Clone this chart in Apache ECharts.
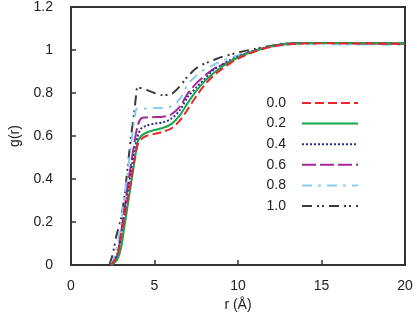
<!DOCTYPE html>
<html><head><meta charset="utf-8">
<script src="https://cdn.jsdelivr.net/npm/echarts@6/dist/echarts.min.js"></script>
<style>html,body{margin:0;padding:0;background:#fff}#c{width:417px;height:317px}</style>
</head><body><div id="c"></div>
<script>
const seriesNames = ['0.0', '0.2', '0.4', '0.6', '0.8', '1.0'];
const xTicks = [0, 5, 10, 15, 20];
const yTicks = [0, 0.2, 0.4, 0.6, 0.8, 1, 1.2];

const r00 = [2.4,2.6,2.8,3.0,3.2,3.4,3.6,3.8,4.0,4.2,4.5,5.0,5.5,6.0,6.5,7.0,7.5,8.0,8.5,9.0,9.5,10,10.5,11,11.5,12,12.5,13,14,15,16,17,18,19,20];
const g00 = [0,0.02,0.05,0.13,0.22,0.31,0.40,0.49,0.56,0.585,0.60,0.61,0.62,0.635,0.67,0.725,0.785,0.838,0.878,0.91,0.937,0.96,0.978,0.993,1.005,1.015,1.022,1.027,1.03,1.031,1.031,1.03,1.03,1.029,1.028];

const r02 = [2.4,2.6,2.8,3.0,3.2,3.4,3.6,3.8,4.0,4.2,4.5,5.0,5.5,6.0,6.5,7.0,7.5,8.0,8.5,9.0,9.5,10,10.5,11,11.5,12,12.5,13,14,15,16,17,18,19,20];
const g02 = [0,0.01,0.03,0.08,0.18,0.28,0.38,0.48,0.575,0.60,0.615,0.628,0.637,0.655,0.695,0.755,0.81,0.855,0.89,0.92,0.945,0.965,0.982,0.996,1.007,1.017,1.024,1.029,1.032,1.033,1.033,1.032,1.031,1.031,1.03];

const r04 = [2.4,2.6,2.8,3.0,3.2,3.4,3.6,3.8,4.0,4.2,4.5,5.0,5.5,6.0,6.5,7.0,7.5,8.0,8.5,9.0,9.5,10,10.5,11,11.5,12,12.5,13,14,15,16,17,18,19,20];
const g04 = [0,0.02,0.06,0.14,0.24,0.34,0.44,0.53,0.60,0.635,0.648,0.658,0.663,0.68,0.718,0.782,0.825,0.865,0.905,0.93,0.952,0.97,0.985,0.998,1.009,1.018,1.025,1.03,1.032,1.032,1.032,1.031,1.031,1.03,1.03];

const r06 = [2.4,2.6,2.8,3.0,3.2,3.4,3.6,3.8,4.0,4.2,4.5,5.0,5.5,6.0,6.5,7.0,7.5,8.0,8.5,9.0,9.5,10,10.5,11,11.5,12,12.5,13,14,15,16,17,18,19,20];
const g06 = [0,0.02,0.05,0.15,0.26,0.37,0.47,0.57,0.65,0.682,0.686,0.688,0.69,0.70,0.735,0.798,0.845,0.88,0.91,0.93,0.945,0.965,0.984,0.997,1.008,1.017,1.025,1.03,1.033,1.033,1.032,1.032,1.031,1.031,1.03];

const r08 = [2.4,2.6,2.8,3.0,3.2,3.4,3.6,3.8,3.9,4.0,4.5,5.0,5.5,6.0,6.5,7.0,7.5,8.0,8.5,9.0,9.5,10,10.5,11,11.5,12,12.5,13,14,15,16,17,18,19,20];
const g08 = [0,0.04,0.10,0.20,0.32,0.44,0.56,0.68,0.725,0.727,0.728,0.73,0.73,0.738,0.77,0.84,0.88,0.91,0.93,0.948,0.962,0.975,0.988,0.998,1.007,1.014,1.02,1.024,1.027,1.027,1.026,1.026,1.026,1.025,1.025];

const r10 = [2.3,2.5,2.7,3.0,3.2,3.4,3.6,3.8,3.9,4.0,4.5,5.0,5.5,6.0,6.5,7.0,7.5,8.0,8.5,9.0,9.5,10,10.5,11,11.5,12,12.5,13,14,15,16,17,18,19,20];
const g10 = [0,0.05,0.13,0.22,0.32,0.46,0.60,0.72,0.79,0.825,0.815,0.80,0.79,0.795,0.83,0.878,0.915,0.937,0.952,0.967,0.978,0.988,0.997,1.005,1.013,1.02,1.027,1.031,1.033,1.032,1.032,1.031,1.031,1.03,1.03];

const rs = [r00, r02, r04, r06, r08, r10];
const gs = [g00, g02, g04, g06, g08, g10];
const colors = ['#e8262b', '#17a84b', '#2b2f96', '#a8289b', '#86cdf0', '#3a3a3a'];
const dashes = [[9, 4], 'solid', [2, 2], [14, 4], [10, 6, 3, 6], [10, 5, 2, 3, 2, 5]];

const font = 'Liberation Sans';
const chart = echarts.init(document.getElementById('c'), null, {renderer: 'canvas'});
chart.setOption({
  animation: false,
  color: colors,
  grid: {left: 62, right: 12, top: 6, bottom: 52, show: true, borderColor: '#333', borderWidth: 2, backgroundColor: 'transparent'},
  legend: {
    orient: 'vertical', right: 58, top: 96, align: 'right', padding: 0,
    itemWidth: 56, itemHeight: 14, itemGap: 6.6,
    itemStyle: {opacity: 0},
    textStyle: {fontFamily: font, fontSize: 14, color: '#222', padding: [0, 11, 0, 0]},
    data: seriesNames
  },
  xAxis: {
    type: 'value', min: 0, max: 20, interval: 5,
    name: 'r (Å)', nameLocation: 'middle', nameGap: 29,
    nameTextStyle: {fontFamily: font, fontSize: 14, color: '#222'},
    axisLine: {show: true, lineStyle: {color: '#333', width: 2}},
    axisTick: {show: true, inside: true, length: 5, lineStyle: {color: '#333', width: 1.5}},
    axisLabel: {fontFamily: font, fontSize: 14, color: '#222', margin: 14,
      formatter: v => xTicks.includes(v) ? String(v) : ''},
    splitLine: {show: false}
  },
  yAxis: {
    type: 'value', min: 0, max: 1.2, interval: 0.2,
    name: 'g(r)', nameLocation: 'middle', nameGap: 49, nameRotate: 90,
    nameTextStyle: {fontFamily: font, fontSize: 14, color: '#222'},
    axisLine: {show: true, lineStyle: {color: '#333', width: 2}},
    axisTick: {show: true, inside: true, length: 5, lineStyle: {color: '#333', width: 1.5}},
    axisLabel: {fontFamily: font, fontSize: 14, color: '#222', margin: 18,
      formatter: v => { const t = yTicks.find(y => Math.abs(y - v) < 1e-6); return t === undefined ? '' : String(t); }},
    splitLine: {show: false}
  },
  series: seriesNames.map((n, i) => ({
    name: n, type: 'line', showSymbol: false, symbol: 'none', smooth: 0.3,
    data: rs[i].map((r, j) => [r, gs[i][j]]),
    lineStyle: {color: colors[i], width: 2, type: dashes[i]},
    itemStyle: {color: colors[i]},
    z: 10 - i
  }))
});
</script></body></html>
